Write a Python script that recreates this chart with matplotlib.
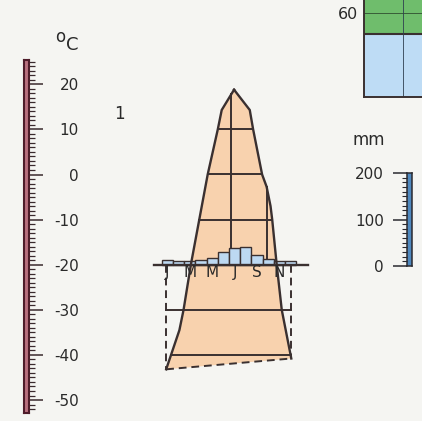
import matplotlib
matplotlib.use("Agg")
import matplotlib.pyplot as plt
import numpy as np
from matplotlib.ticker import FixedLocator

plt.rcParams['font.family'] = ['DejaVu Sans']
plt.rcParams['axes.unicode_minus'] = False

# ---------------- data ----------------
month_labels = ['J', 'F', 'M', 'A', 'M', 'J', 'J', 'A', 'S', 'O', 'N', 'D']
precip_mm = [11, 9, 7, 11, 15, 27, 36, 39, 20, 13, 9, 8]

# outline of the temperature figure (month position, deg C)
left_m = [6.45, 5.35, 5.0, 4.1, 3.35, 2.6, 1.95, 1.58, 0.4]
left_t = [18.8, 14.3, 10, 0, -10, -20, -30, -34.5, -43.2]
right_m = [6.45, 7.85, 8.15, 8.95, 9.35, 9.7, 9.85, 10.25, 10.7, 11.55]
right_t = [18.8, 14.3, 10, 0, -2.7, -7, -10, -20, -30, -40.8]

inner_levels = [10, 0, -10]          # edge-to-edge lines
base_t = -20
inner_verticals = [6.22, 9.36]

temp_major = list(range(-50, 21, 10))
temp_minor = list(range(-52, 26, 1))
mm_major = [0, 100, 200]
mm_minor = list(range(0, 201, 10))

panel_blue = 45
panel_green = 40
panel_label = 60

# ---------------- style ----------------
BG = '#f5f5f2'
ORANGE = '#f8d2ae'
DARK = '#3a3030'
BAR_BLUE = '#bdd9f2'
MAROON = '#4e1c2a'
PINK = '#b9707f'
SCALE_BLUE = '#4f88be'
GREEN = '#6fbd6c'
PANEL_BLUE = '#bedcf5'
TXT = '#2a2a2a'
MM_PER_DEG = 9.7

W, H = 422, 421
fig = plt.figure(figsize=(W / 100, H / 100), dpi=100, facecolor=BG)


def box(x0, y0, x1, y1):
    return [x0 / W, 1 - y1 / H, (x1 - x0) / W, (y1 - y0) / H]


# ---------------- main chart ----------------
ax = fig.add_axes([0, 0, 1, 1])
ax.set_xlim(-14.41, 23.20)
ax.set_ylim(-54.66, 38.69)
ax.axis('off')
ax.patch.set_alpha(0)

poly_m = left_m[::-1] + right_m[1:]
poly_t = left_t[::-1] + right_t[1:]
ax.fill(poly_m, poly_t, color=ORANGE, lw=0, zorder=1)

lm_inc = np.array(left_m[::-1])
lt_inc = np.array(left_t[::-1])
rt_dec = np.array(right_t[::-1])
rm_dec = np.array(right_m[::-1])


def left_at(t):
    return np.interp(t, lt_inc, lm_inc)


def right_at(t):
    return np.interp(t, rt_dec, rm_dec)


lw = 1.4
for lev in inner_levels:
    ax.plot([left_at(lev), right_at(lev)], [lev, lev], color=DARK, lw=lw, zorder=2)
# lower lines
ax.plot([left_m[-1], right_m[-1]], [-30, -30], color=DARK, lw=lw, zorder=2)
ax.plot([left_at(-40), right_m[-1]], [-40, -40], color=DARK, lw=lw, zorder=2)

# inner verticals
peak_m = left_m[0]
for vm in inner_verticals:
    if vm < peak_m:
        top = np.interp(vm, left_m[::-1], left_t[::-1])
    else:
        top = np.interp(vm, right_m, right_t)
    ax.plot([vm, vm], [base_t, top], color=DARK, lw=lw, zorder=2)

# precipitation bars
x = np.arange(12)
ax.bar(x, np.array(precip_mm) / MM_PER_DEG, width=1.0, bottom=base_t, align='edge',
       color=BAR_BLUE, edgecolor=DARK, lw=1.0, zorder=3)

# outline edges
ax.plot(left_m, left_t, color=DARK, lw=1.7, zorder=4, solid_joinstyle='round')
ax.plot(right_m, right_t, color=DARK, lw=1.7, zorder=4, solid_joinstyle='round')
dash = (0, (4, 2.5))
ax.plot([left_m[-1], right_m[-1]], [left_t[-1], right_t[-1]], color=DARK, lw=1.4,
        ls=dash, zorder=4)
ax.plot([left_m[-1], left_m[-1]], [base_t, left_t[-1]], color=DARK, lw=1.4, ls=dash, zorder=4)
ax.plot([right_m[-1], right_m[-1]], [base_t, right_t[-1]], color=DARK, lw=1.4, ls=dash, zorder=4)

# base line
ax.plot([-0.68, 13.0], [base_t, base_t], color=DARK, lw=1.7, zorder=5)

for i, lab in enumerate(month_labels):
    if i % 2 == 0:
        ax.text(i + 0.5, -21.8, lab, ha='center', va='center', fontsize=11,
                color=TXT, zorder=6)

# ---------------- thermometer ----------------
tax = fig.add_axes(box(24, 60, 29, 413))
tax.set_ylim(-52.88, 25.39)
tax.set_xlim(0, 1)
tax.set_facecolor(PINK)
for s in tax.spines.values():
    s.set_color(MAROON)
    s.set_linewidth(1.5)
tax.set_xticks([])
tax.yaxis.tick_right()
tax.yaxis.set_major_locator(FixedLocator(temp_major))
tax.yaxis.set_minor_locator(FixedLocator(temp_minor))
tax.tick_params(axis='y', which='major', length=10, width=1.1, color='#3a2a2e',
                pad=26, labelsize=11, labelcolor=TXT)
tax.tick_params(axis='y', which='minor', length=4.5, width=0.9, color='#3a2a2e')
tax.set_yticklabels([str(v) for v in temp_major])
for lab in tax.get_yticklabels():
    lab.set_horizontalalignment('right')

fig.text(60 / W, 1 - 37 / H, 'o', ha='center', va='center', fontsize=12, color=TXT)
fig.text(72.5 / W, 1 - 45 / H, 'C', ha='center', va='center', fontsize=13, color=TXT)
fig.text(119.5 / W, 1 - 114 / H, '1', ha='center', va='center', fontsize=12, color=TXT)

# ---------------- mm scale ----------------
max_ = fig.add_axes(box(407, 173, 412, 266))
max_.set_ylim(0, 200)
max_.set_xlim(0, 1)
max_.set_facecolor(SCALE_BLUE)
for s in max_.spines.values():
    s.set_color('#2a2a30')
    s.set_linewidth(1.1)
max_.set_xticks([])
max_.yaxis.set_major_locator(FixedLocator(mm_major))
max_.yaxis.set_minor_locator(FixedLocator(mm_minor))
max_.tick_params(axis='y', which='major', length=10, width=1.1, color='#2a2a30',
                 pad=6.5, labelsize=11, labelcolor=TXT)
max_.tick_params(axis='y', which='minor', length=3.5, width=0.8, color='#2a2a30')
max_.set_yticklabels([str(v) for v in mm_major])
fig.text(369 / W, 1 - 140 / H, 'mm', ha='center', va='center', fontsize=12, color=TXT)

# ---------------- partial panel (top right) ----------------
pax = fig.add_axes(box(364, -20, 440, 97))
pax.set_ylim(0, 83.6)
pax.set_xlim(0, 1)
pax.patch.set_alpha(0)
pax.bar([0.5], [panel_blue], width=1.0, color=PANEL_BLUE, lw=0, zorder=1)
pax.bar([0.5], [panel_green], bottom=[panel_blue], width=1.0, color=GREEN, lw=0, zorder=1)
pax.axhline(panel_blue, color=DARK, lw=1.5, zorder=2)
pax.axhline(panel_label, color='#2f4f30', lw=0.6, zorder=2)
pax.axvline(39 / 76, color='#2f3f50', lw=0.6, zorder=2)
for k in ['top', 'right']:
    pax.spines[k].set_visible(False)
for k in ['left', 'bottom']:
    pax.spines[k].set_color(DARK)
    pax.spines[k].set_linewidth(1.4)
pax.set_xticks([])
pax.set_yticks([panel_label])
pax.set_yticklabels([str(panel_label)])
pax.tick_params(axis='y', length=0, pad=4.5, labelsize=11.5, labelcolor=TXT)

fig.savefig('out.png', dpi=100, facecolor=BG)
